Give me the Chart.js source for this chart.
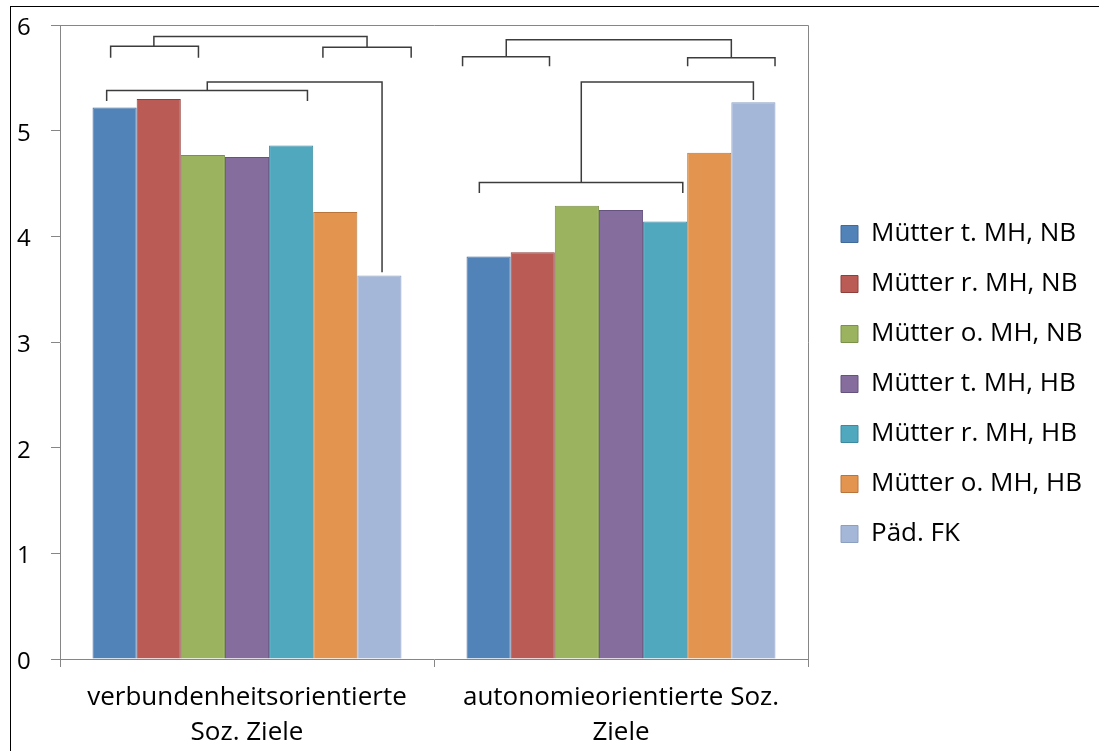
<!DOCTYPE html>
<html>
<head>
<meta charset="utf-8">
<script src="https://cdn.jsdelivr.net/npm/chart.js@4"></script>
<style>
  html, body { margin: 0; padding: 0; overflow: hidden; background: #fff; }
  #frame { position: absolute; left: 10px; top: 6px; width: 1100px; height: 780px; border: 1px solid #000; background: #fff; }
  #chart { display: block; }
</style>
</head>
<body>
<div id="frame"><canvas id="chart" width="1088" height="744"></canvas></div>
<script>
const categories = [['verbundenheitsorientierte', 'Soz. Ziele'], ['autonomieorientierte Soz.', 'Ziele']];
const seriesNames = ['Mütter t. MH, NB', 'Mütter r. MH, NB', 'Mütter o. MH, NB', 'Mütter t. MH, HB', 'Mütter r. MH, HB', 'Mütter o. MH, HB', 'Päd. FK'];
const tMhNb = [5.22, 3.81];
const rMhNb = [5.30, 3.85];
const oMhNb = [4.77, 4.29];
const tMhHb = [4.75, 4.25];
const rMhHb = [4.86, 4.14];
const oMhHb = [4.23, 4.79];
const paedFk = [3.63, 5.27];
const yTicks = [0, 1, 2, 3, 4, 5, 6];

// significance brackets: category, from/to in bar slots (0 = first bar), height of the bridge, left/right leg ends
const brackets = [
    { cat: 0, from: 0.89, to: 5.72, y: 5.89, left: 5.80, right: 5.79 },
    { cat: 0, from: -0.09, to: 1.90, y: 5.80, left: 5.69, right: 5.69 },
    { cat: 0, from: 4.72, to: 6.72, y: 5.79, left: 5.69, right: 5.69 },
    { cat: 0, from: -0.18, to: 4.37, y: 5.38, left: 5.28, right: 5.28 },
    { cat: 0, from: 2.10, to: 6.06, y: 5.46, left: 5.38, right: 3.66 },
    { cat: 1, from: 0.40, to: 5.50, y: 5.86, left: 5.70, right: 5.69 },
    { cat: 1, from: -0.59, to: 1.38, y: 5.70, left: 5.61, right: 5.61 },
    { cat: 1, from: 4.51, to: 6.49, y: 5.69, left: 5.61, right: 5.61 },
    { cat: 1, from: 2.10, to: 6.00, y: 5.46, left: 4.51, right: 5.29 },
    { cat: 1, from: -0.21, to: 4.40, y: 4.51, left: 4.41, right: 4.41 }
];

const fills = ['#5183b8', '#ba5b55', '#9bb25f', '#856d9e', '#50a8bf', '#e3954f', '#a4b7d8'];
const edges = ['#41699a', '#8f3f3b', '#7a9148', '#66527f', '#3b8aa0', '#b8743a', '#8b9fc2'];
const values = [tMhNb, rMhNb, oMhNb, tMhHb, rMhHb, oMhHb, paedFk];

const fontFamily = '"Open Sans"';
const axisGray = '#868686';
const plotRight = 797;

const plotFrame = {
    id: 'plotFrame',
    beforeDatasetsDraw(chart) {
        const { ctx, chartArea: a } = chart;
        ctx.save();
        ctx.strokeStyle = axisGray;
        ctx.lineWidth = 1;
        ctx.beginPath();
        ctx.moveTo(a.left, a.top + 0.5);
        ctx.lineTo(a.right + 0.5, a.top + 0.5);
        ctx.lineTo(a.right + 0.5, a.bottom);
        ctx.stroke();
        ctx.restore();
    }
};

const bracketLines = {
    id: 'bracketLines',
    afterDatasetsDraw(chart) {
        const { ctx, scales } = chart;
        const first = chart.getDatasetMeta(0).data;
        const last = chart.getDatasetMeta(values.length - 1).data;
        ctx.save();
        ctx.strokeStyle = '#3c3c3c';
        ctx.lineWidth = 1.5;
        brackets.forEach(b => {
            const x0 = first[b.cat].x;
            const step = (last[b.cat].x - x0) / (values.length - 1);
            const xa = x0 + b.from * step;
            const xb = x0 + b.to * step;
            ctx.beginPath();
            ctx.moveTo(xa, scales.y.getPixelForValue(b.left));
            ctx.lineTo(xa, scales.y.getPixelForValue(b.y));
            ctx.lineTo(xb, scales.y.getPixelForValue(b.y));
            ctx.lineTo(xb, scales.y.getPixelForValue(b.right));
            ctx.stroke();
        });
        ctx.restore();
    }
};

const chart = new Chart(document.getElementById('chart'), {
    type: 'bar',
    data: {
        labels: categories,
        datasets: seriesNames.map((name, i) => ({
            label: name,
            data: values[i],
            backgroundColor: fills[i],
            borderColor: edges[i],
            borderWidth: 1,
            categoryPercentage: 0.826,
            barPercentage: 1,
            yAxisID: 'y'
        }))
    },
    options: {
        responsive: false,
        animation: false,
        layout: { padding: { top: 18, bottom: 8, left: 6, right: 0 } },
        scales: {
            x: {
                grid: { drawOnChartArea: false, tickLength: 8, color: axisGray },
                border: { color: axisGray },
                ticks: { color: '#000', padding: 13, font: { family: fontFamily, size: 26, lineHeight: 1.35 }, maxRotation: 0, autoSkip: false },
                afterFit: s => { s.height = 84; }
            },
            y: {
                min: 0,
                max: 6,
                afterBuildTicks: s => { s.ticks = yTicks.map(v => ({ value: v })); },
                grid: { drawOnChartArea: false, tickLength: 9, color: axisGray },
                border: { color: axisGray },
                ticks: { color: '#000', padding: 0, crossAlign: 'far', labelOffset: 3, font: { family: fontFamily, size: 24 } },
                afterFit: s => { s.width = 43; }
            },
            y2: {
                position: 'right',
                grid: { display: false },
                border: { display: false },
                ticks: { display: false },
                afterFit: s => { s.width = 9; }
            }
        },
        plugins: {
            legend: {
                position: 'right',
                maxWidth: 400,
                labels: { color: '#000', font: { family: fontFamily, size: 26 }, boxWidth: 17, boxHeight: 17, padding: 24 }
            },
            tooltip: { enabled: false }
        }
    },
    plugins: [plotFrame, bracketLines]
});

// the legend takes whatever width its text needs; pad the right side so the plot ends at plotRight
chart.options.layout.padding.right += chart.chartArea.right - plotRight;
chart.update();
</script>
</body>
</html>
